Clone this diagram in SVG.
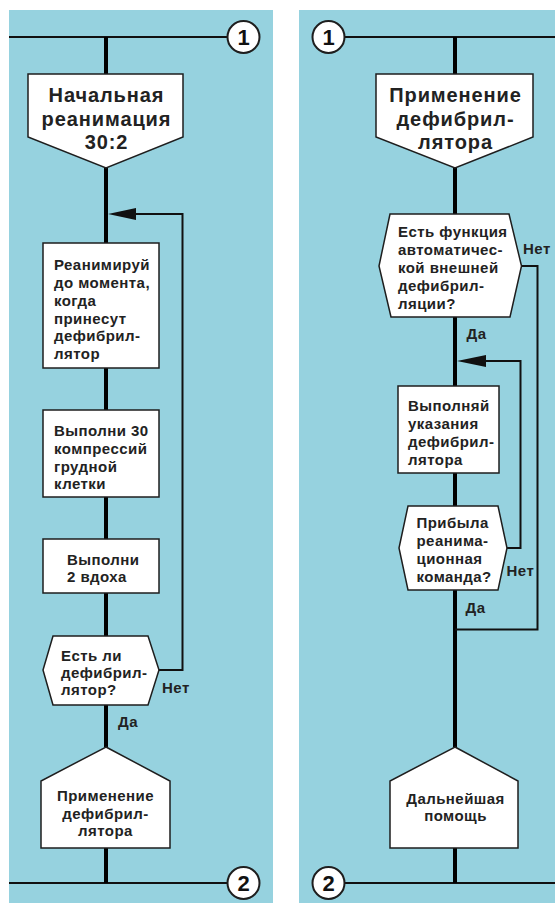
<svg xmlns="http://www.w3.org/2000/svg" width="555" height="903" viewBox="0 0 555 903">
<defs>
<style>
.panel{fill:#96d2df}
.shape{fill:#fff;stroke:#1e1e1e;stroke-width:1.5;stroke-linejoin:miter}
.main{stroke:#000;stroke-width:4;fill:none}
.thin{stroke:#111;stroke-width:2;fill:none}
.conn{fill:#fff;stroke:#1e1e1e;stroke-width:2}
.hd{font-family:"Liberation Sans",Arial,sans-serif;font-weight:bold;font-size:20px;letter-spacing:0.9px;fill:#222;text-anchor:middle}
.tx{font-family:"Liberation Sans",Arial,sans-serif;font-weight:bold;font-size:15px;letter-spacing:0.45px;fill:#222}
.txc{font-family:"Liberation Sans",Arial,sans-serif;font-weight:bold;font-size:15px;letter-spacing:0.45px;fill:#222;text-anchor:middle}
.num{font-family:"Liberation Sans",Arial,sans-serif;font-weight:bold;font-size:22px;fill:#111;text-anchor:middle}
</style>
</defs>
<rect width="555" height="903" fill="#fff"/>
<rect class="panel" x="9" y="10" width="264" height="893"/>
<rect class="panel" x="299" y="10" width="256" height="893"/>

<g id="connectors">
<line class="thin" x1="9" y1="37" x2="227" y2="37"/>
<line class="thin" x1="9" y1="883" x2="227" y2="883"/>
<line class="main" x1="106" y1="37" x2="106" y2="74"/>
<line class="main" x1="106" y1="168" x2="106" y2="243"/>
<line class="main" x1="106" y1="368" x2="106" y2="410"/>
<line class="main" x1="106" y1="497" x2="106" y2="539"/>
<line class="main" x1="106" y1="593" x2="106" y2="636"/>
<line class="main" x1="106" y1="705" x2="106" y2="747"/>
<line class="main" x1="106" y1="848" x2="106" y2="883"/>
<polyline class="thin" points="159,670 182.5,670 182.5,214 136,214"/>
<path d="M108,214 L136,208 L136,220 Z" fill="#111"/>
<line class="thin" x1="345" y1="37" x2="555" y2="37"/>
<line class="thin" x1="345" y1="883" x2="555" y2="883"/>
<line class="main" x1="455" y1="37" x2="455" y2="74"/>
<line class="main" x1="455" y1="168" x2="455" y2="214"/>
<line class="main" x1="455" y1="317" x2="455" y2="386"/>
<line class="main" x1="455" y1="473" x2="455" y2="506"/>
<line class="main" x1="455" y1="590" x2="455" y2="747"/>
<line class="main" x1="455" y1="848" x2="455" y2="883"/>
<polyline class="thin" points="521.5,266 537.5,266 537.5,629.5 455,629.5"/>
<polyline class="thin" points="507,548 520.5,548 520.5,361 485,361"/>
<path d="M457,361 L486,355 L486,367 Z" fill="#111"/>
</g>

<g id="conn1-left"><circle class="conn" cx="243.5" cy="37" r="16"/><text class="num" x="243.5" y="45">1</text></g>
<g id="conn2-left"><circle class="conn" cx="243.5" cy="883" r="16"/><text class="num" x="243.5" y="891">2</text></g>
<g id="conn1-right"><circle class="conn" cx="328.5" cy="37" r="16"/><text class="num" x="328.5" y="45">1</text></g>
<g id="conn2-right"><circle class="conn" cx="328.5" cy="883" r="16"/><text class="num" x="328.5" y="891">2</text></g>

<g id="start-left">
<polygon class="shape" points="28,74 183,74 183,137 106,168 28,137"/>
<text class="hd" x="106.5" y="102">Начальная</text>
<text class="hd" x="106.5" y="125.5">реанимация</text>
<text class="hd" x="106.5" y="149">30:2</text>
</g>

<g id="box-resuscitate">
<rect class="shape" x="43" y="243" width="116" height="125"/>
<text class="tx" x="54" y="270">Реанимируй</text>
<text class="tx" x="54" y="288">до момента,</text>
<text class="tx" x="54" y="306">когда</text>
<text class="tx" x="54" y="324">принесут</text>
<text class="tx" x="54" y="341">дефибрил-</text>
<text class="tx" x="54" y="359">лятор</text>
</g>

<g id="box-compressions">
<rect class="shape" x="43" y="410" width="116" height="87"/>
<text class="tx" x="54" y="436">Выполни 30</text>
<text class="tx" x="54" y="454">компрессий</text>
<text class="tx" x="54" y="472">грудной</text>
<text class="tx" x="54" y="489">клетки</text>
</g>

<g id="box-breaths">
<rect class="shape" x="43" y="539" width="116" height="54"/>
<text class="tx" x="67" y="565">Выполни</text>
<text class="tx" x="67" y="582">2 вдоха</text>
</g>

<g id="decision-defib">
<polygon class="shape" points="53,636 148,636 159,670 148,705 53,705 43,670"/>
<text class="tx" x="61" y="661">Есть ли</text>
<text class="tx" x="61" y="678">дефибрил-</text>
<text class="tx" x="61" y="695">лятор?</text>
<text class="tx" x="162" y="693">Нет</text>
<text class="tx" x="118" y="727">Да</text>
</g>

<g id="end-left">
<polygon class="shape" points="106,747 170,781 170,848 41,848 41,781"/>
<text class="txc" x="105.5" y="801">Применение</text>
<text class="txc" x="105.5" y="819">дефибрил-</text>
<text class="txc" x="105.5" y="836">лятора</text>
</g>

<g id="start-right">
<polygon class="shape" points="376,74 533,74 533,137 455,168 376,137"/>
<text class="hd" x="455.5" y="102">Применение</text>
<text class="hd" x="455.5" y="125.5">дефибрил-</text>
<text class="hd" x="455.5" y="149">лятора</text>
</g>

<g id="decision-aed">
<polygon class="shape" points="390,214 509,214 521.5,266 510,317 391,317 379,266"/>
<text class="tx" x="398" y="237">Есть функция</text>
<text class="tx" x="398" y="255">автоматичес-</text>
<text class="tx" x="398" y="273">кой внешней</text>
<text class="tx" x="398" y="291">дефибрил-</text>
<text class="tx" x="398" y="309">ляции?</text>
<text class="tx" x="523" y="254">Нет</text>
<text class="tx" x="466.5" y="339">Да</text>
</g>

<g id="box-follow">
<rect class="shape" x="398" y="386" width="101" height="87"/>
<text class="tx" x="408" y="411">Выполняй</text>
<text class="tx" x="408" y="429">указания</text>
<text class="tx" x="408" y="447">дефибрил-</text>
<text class="tx" x="408" y="465">лятора</text>
</g>

<g id="decision-team">
<polygon class="shape" points="408,506 498,506 507,548 498,590 408,590 399,548"/>
<text class="tx" x="416.5" y="528">Прибыла</text>
<text class="tx" x="416.5" y="546">реанима-</text>
<text class="tx" x="416.5" y="564">ционная</text>
<text class="tx" x="416.5" y="582">команда?</text>
<text class="tx" x="506.5" y="576">Нет</text>
<text class="tx" x="465.5" y="613">Да</text>
</g>

<g id="end-right">
<polygon class="shape" points="455,747 518,781 518,848 390,848 390,781"/>
<text class="txc" x="455.5" y="804">Дальнейшая</text>
<text class="txc" x="455.5" y="821">помощь</text>
</g>
</svg>
